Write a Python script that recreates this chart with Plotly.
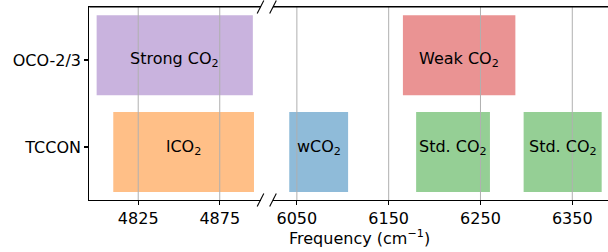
import plotly.graph_objects as go

# ---- data ----
categories = ["TCCON", "OCO-2/3"]
cat_pos = [1, 2]

left_labels = ["Strong CO<sub>2</sub>", "lCO<sub>2</sub>"]
left_start = [4799.5, 4809.7]
left_end = [4895.3, 4896.0]
left_cat = ["OCO-2/3", "TCCON"]
left_colors = ["#c9b3de", "#ffbf87"]

right_labels = ["wCO<sub>2</sub>", "Weak CO<sub>2</sub>", "Std. CO<sub>2</sub>", "Std. CO<sub>2</sub>"]
right_start = [6041.7, 6165.5, 6179.9, 6297.0]
right_end = [6105.8, 6288.0, 6260.3, 6382.0]
right_cat = ["TCCON", "OCO-2/3", "TCCON", "TCCON"]
right_colors = ["#8fbbd9", "#ea9393", "#95cf95", "#95cf95"]

left_ticks = [4825, 4875]
right_ticks = [6050, 6150, 6250, 6350]
left_range = [4795, 4900]
right_range = [6024.0, 6388.9]

# bar extents in category units (bars sit slightly offset from the tick)
bar_center = {"TCCON": 0.9425, "OCO-2/3": 2.054}
bar_height = 0.92
y_range = [0.391, 2.609]

W, H = 608, 252
ML, MR, MT, MB = 0, 0, 7, 52
FONT = "DejaVu Sans"

fig = go.Figure()


def add_bars(labels, starts, ends, cats, colors, xa, ya):
    for lab, s, e, c, col in zip(labels, starts, ends, cats, colors):
        fig.add_trace(go.Bar(
            orientation="h", base=[s], x=[e - s], y=[bar_center[c]],
            width=bar_height, marker=dict(color=col, line=dict(width=0)),
            xaxis=xa, yaxis=ya, showlegend=False, hoverinfo="skip"))
        fig.add_annotation(
            x=(s + e) / 2, y=cat_pos[categories.index(c)], xref=xa, yref=ya,
            text=lab, showarrow=False, font=dict(family=FONT, size=16, color="black"),
            xanchor="center", yanchor="middle")


add_bars(left_labels, left_start, left_end, left_cat, left_colors, "x", "y")
add_bars(right_labels, right_start, right_end, right_cat, right_colors, "x2", "y2")

# grid lines above the bars
for t in left_ticks:
    fig.add_shape(type="line", xref="x", yref="y domain", x0=t, x1=t, y0=0, y1=1,
                  line=dict(color="#b0b0b0", width=1), layer="above")
for t in right_ticks:
    fig.add_shape(type="line", xref="x2", yref="y2 domain", x0=t, x1=t, y0=0, y1=1,
                  line=dict(color="#b0b0b0", width=1), layer="above")

plot_h = H - MT - MB
x_left_start = 89.3
x_left_end = 260.5
x_right_start = 273.0


def px(x):
    return x / W


def py(y):
    return (H - MB - y) / plot_h


# top spines (subplot-domain referenced)
for xr, yr in [("x domain", "y domain"), ("x2 domain", "y2 domain")]:
    fig.add_shape(type="line", xref=xr, yref=yr, x0=0, x1=1, y0=1, y1=1,
                  line=dict(color="black", width=1.1), layer="above")

# break marks
for cx in [x_left_end, x_right_start]:
    for cy in [MT, H - MB]:
        fig.add_shape(type="line", xref="paper", yref="paper",
                      x0=px(cx - 3.3), y0=py(cy + 6.5), x1=px(cx + 3.3), y1=py(cy - 6.5),
                      line=dict(color="black", width=1.1))

axis_common = dict(showline=True, linecolor="black", linewidth=1.1, ticks="outside",
                   ticklen=4, tickwidth=1.1, tickcolor="black", showgrid=False,
                   zeroline=False, tickfont=dict(family=FONT, size=16, color="black"),
                   automargin=False)

fig.update_layout(
    width=W, height=H,
    margin=dict(l=ML, r=MR, t=MT, b=MB),
    plot_bgcolor="white", paper_bgcolor="white",
    barmode="overlay", hovermode=False, showlegend=False,
    xaxis=dict(domain=[x_left_start / W, x_left_end / W], range=left_range,
               tickmode="array", tickvals=left_ticks, anchor="y", mirror=True,
               **axis_common),
    yaxis=dict(domain=[0, 1], range=y_range, tickmode="array", tickvals=cat_pos,
               ticktext=categories, anchor="x", **axis_common),
    xaxis2=dict(domain=[x_right_start / W, 1], range=right_range,
                tickmode="array", tickvals=right_ticks, anchor="y2", mirror=True,
                **axis_common),
    yaxis2=dict(domain=[0, 1], range=y_range, anchor="x2", showline=False,
                showticklabels=False, ticks="", showgrid=False, zeroline=False),
)

fig.add_annotation(x=px(359), y=py(237), xref="paper", yref="paper",
                   text="Frequency (cm<sup>−1</sup>)", showarrow=False,
                   font=dict(family=FONT, size=16, color="black"),
                   xanchor="center", yanchor="middle")

fig.write_html("out.html", config={"displayModeBar": False, "staticPlot": True},
               post_script="document.body.style.margin='0';document.body.style.overflow='hidden';")
